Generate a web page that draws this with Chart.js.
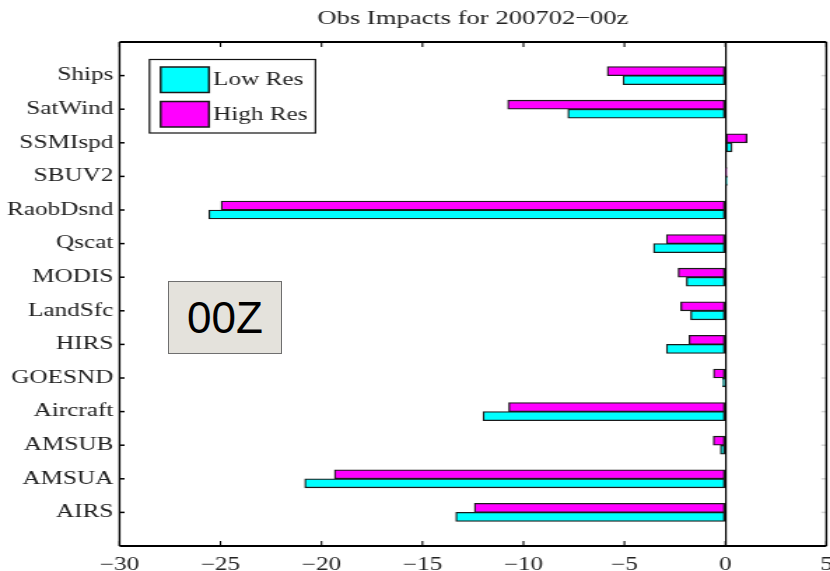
<!DOCTYPE html>
<html>
<head>
<meta charset="utf-8">
<title>Obs Impacts for 200702−00z</title>
<script src="https://cdn.jsdelivr.net/npm/chart.js@4.4.1/dist/chart.umd.min.js"></script>
<style>
  html, body { margin: 0; padding: 0; background: #fff; overflow: hidden; }
  #wrap { position: relative; width: 830px; height: 571px; overflow: hidden; }
  #chart { position: absolute; left: 0; top: 0; }
  #stamp {
    position: absolute; left: 168px; top: 281px; width: 112px; height: 71px;
    background: #e4e2dc; border: 1.5px solid #6f6f6f;
    font-family: "Liberation Sans", Arial, sans-serif; font-size: 44px; color: #000;
    display: flex; align-items: center; justify-content: center; line-height: 1;
  }
</style>
</head>
<body>
<div id="wrap">
  <!-- drawn on a narrower canvas and widened to the page width -->
  <canvas id="chart" width="593" height="571" style="width:830px;height:571px"></canvas>
  <div id="stamp">00Z</div>
</div>
<script>
// Observation types, listed top to bottom
const categories = ['Ships', 'SatWind', 'SSMIspd', 'SBUV2', 'RaobDsnd', 'Qscat', 'MODIS',
                    'LandSfc', 'HIRS', 'GOESND', 'Aircraft', 'AMSUB', 'AMSUA', 'AIRS'];
// Forecast impact per observation type
const lowRes  = [-5.07, -7.80, 0.33, 0.08, -25.58, -3.56, -1.93, -1.72, -2.92, -0.13, -12.00, -0.25, -20.83, -13.35];
const highRes = [-5.85, -10.78, 1.07, 0.06, -24.97, -2.92, -2.34, -2.21, -1.80, -0.59, -10.73, -0.60, -19.36, -12.43];
// Impact axis ticks
const xTicks = [-30, -25, -20, -15, -10, -5, 0, 5];
const chartTitle = 'Obs Impacts for 200702\u221200z';

const SERIF = '"Liberation Serif", "Times New Roman", serif';
const TEXT = '#222';
const LOW_COLOR = '#00ffff';
const HIGH_COLOR = '#ff00ff';
const EDGE = '#1a1a1a';

const toPoints = vals => vals.map((v, i) => ({ x: v, y: i }));
const minus = v => (v < 0 ? '\u2212' + Math.abs(v) : String(v));

// Boxed frame, inward tick marks, title and legend
const decorations = {
  id: 'decorations',
  afterDatasetsDraw(chart) {
    const { ctx, chartArea: a, scales: { x, y } } = chart;
    const seg = (x1, y1, x2, y2) => { ctx.beginPath(); ctx.moveTo(x1, y1); ctx.lineTo(x2, y2); ctx.stroke(); };
    ctx.save();
    ctx.strokeStyle = '#000';
    // x ticks pointing into the plot from top and bottom
    ctx.lineWidth = 1.1;
    x.ticks.forEach(t => {
      const px = x.getPixelForValue(t.value);
      seg(px, a.bottom, px, a.bottom - 5);
      seg(px, a.top, px, a.top + 5);
    });
    // y ticks: dark on the left, faint on the right
    ctx.lineWidth = 1.5;
    y.ticks.forEach(t => {
      const py = y.getPixelForValue(t.value);
      ctx.strokeStyle = '#000';
      seg(a.left, py, a.left + 3.6, py);
      ctx.strokeStyle = '#d4d4d4';
      seg(a.right - 3.6, py, a.right, py);
    });
    // frame
    ctx.strokeStyle = '#000';
    ctx.lineWidth = 1.4;
    seg(a.left, a.top, a.left, a.bottom);
    seg(a.right, a.top, a.right, a.bottom);
    ctx.lineWidth = 2;
    seg(a.left, a.top, a.right, a.top);
    seg(a.left, a.bottom, a.right, a.bottom);

    // title
    ctx.fillStyle = TEXT;
    ctx.font = '19px ' + SERIF;
    ctx.textAlign = 'center';
    ctx.textBaseline = 'alphabetic';
    ctx.fillText(chartTitle, (a.left + a.right) / 2, 24);

    // legend, Low Res listed first
    const lx = 106.8, ly = 59.5, lw = 118.6, lh = 73.5;
    ctx.fillStyle = '#fff';
    ctx.fillRect(lx, ly, lw, lh);
    ctx.strokeStyle = '#111';
    ctx.lineWidth = 1.2;
    ctx.strokeRect(lx, ly, lw, lh);
    const items = chart.data.datasets.slice().reverse();
    items.forEach((ds, k) => {
      const top = 67 + k * 34.5;
      ctx.fillStyle = ds.backgroundColor;
      ctx.fillRect(114.8, top, 34.5, 25.5);
      ctx.strokeStyle = EDGE;
      ctx.lineWidth = 1.5;
      ctx.strokeRect(114.8, top, 34.5, 25.5);
      ctx.fillStyle = TEXT;
      ctx.font = '18px ' + SERIF;
      ctx.textAlign = 'left';
      ctx.textBaseline = 'middle';
      ctx.fillText(ds.label, 152.3, top + 13.5);
    });
    ctx.restore();
  }
};

new Chart(document.getElementById('chart'), {
  type: 'bar',
  data: {
    datasets: [
      { label: 'High Res', data: toPoints(highRes), backgroundColor: HIGH_COLOR,
        borderColor: EDGE, borderWidth: 1.3, borderSkipped: false, barThickness: 9 },
      { label: 'Low Res', data: toPoints(lowRes), backgroundColor: LOW_COLOR,
        borderColor: EDGE, borderWidth: 1.3, borderSkipped: false, barThickness: 9 }
    ]
  },
  options: {
    indexAxis: 'y',
    responsive: false,
    animation: false,
    devicePixelRatio: 1,
    layout: { padding: { top: 42, right: 2.6, left: 0, bottom: 0 } },
    plugins: { legend: { display: false }, tooltip: { enabled: false }, title: { display: false } },
    scales: {
      x: {
        type: 'linear',
        min: -30, max: 5,
        offset: false,
        afterBuildTicks: s => { s.ticks = xTicks.map(v => ({ value: v })); },
        afterFit: s => { s.height = 25; s.paddingLeft = 0; s.paddingRight = 0; },
        border: { display: false },
        grid: {
          drawTicks: false,
          offset: false,
          lineWidth: 1.2,
          color: c => (c.tick && c.tick.value === 0 ? '#000' : 'rgba(0,0,0,0)')
        },
        ticks: {
          padding: 8,
          maxRotation: 0,
          autoSkip: false,
          color: TEXT,
          font: { family: SERIF, size: 18 },
          callback: v => minus(v)
        }
      },
      y: {
        type: 'linear',
        min: -1, max: categories.length,
        reverse: true,
        offset: false,
        afterBuildTicks: s => { s.ticks = categories.map((_, i) => ({ value: i })); },
        afterFit: s => { s.width = 85.4; s.paddingTop = 0; s.paddingBottom = 0; },
        border: { display: false },
        grid: { display: false, drawTicks: false, offset: false },
        ticks: {
          padding: 4.5,
          autoSkip: false,
          color: TEXT,
          font: { family: SERIF, size: 18 },
          callback: v => categories[v] ?? ''
        }
      }
    }
  },
  plugins: [decorations]
});
</script>
</body>
</html>
